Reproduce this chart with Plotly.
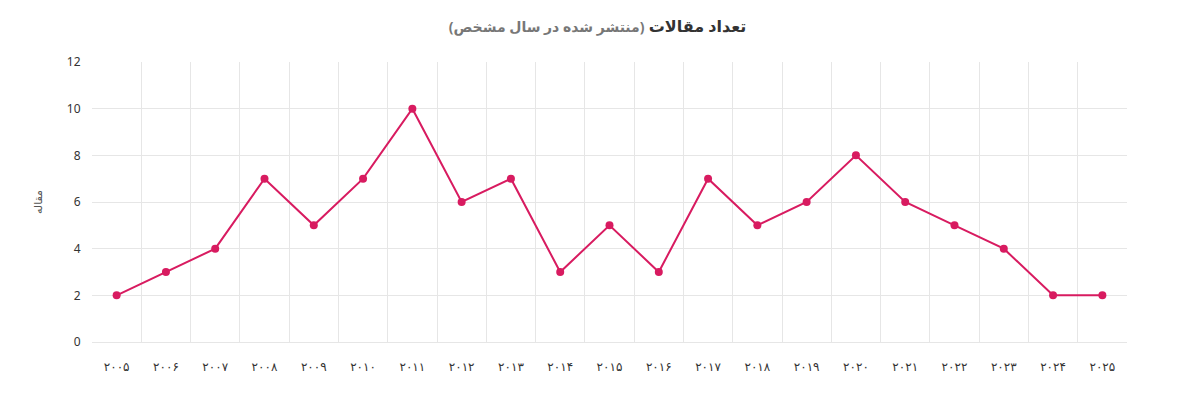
import plotly.graph_objects as go

years = ["۲۰۰۵","۲۰۰۶","۲۰۰۷","۲۰۰۸","۲۰۰۹","۲۰۱۰","۲۰۱۱","۲۰۱۲","۲۰۱۳","۲۰۱۴","۲۰۱۵","۲۰۱۶","۲۰۱۷","۲۰۱۸","۲۰۱۹","۲۰۲۰","۲۰۲۱","۲۰۲۲","۲۰۲۳","۲۰۲۴","۲۰۲۵"]
counts = [2,3,4,7,5,7,10,6,7,3,5,3,7,5,6,8,6,5,4,2,2]

fig = go.Figure(go.Scatter(x=years, y=counts, mode="lines+markers",
    line=dict(color="#d81b60", width=2), marker=dict(color="#d81b60", size=8)))
fig.update_layout(
    width=1179, height=417, paper_bgcolor="white", plot_bgcolor="white",
    margin=dict(l=84, r=60, t=54, b=83), showlegend=False,
    font=dict(family="Noto Sans, DejaVu Sans", color="#333"),
    title=dict(text="<b>تعداد مقالات</b> <span style='color:#777;font-size:14px'><b>(منتشر شده در سال مشخص)</b></span>",
               x=0.5, y=0.955, xanchor="center", yanchor="middle", font=dict(size=16, color="#333")),
    xaxis=dict(type="category", tickson="boundaries", showgrid=True, gridcolor="#e6e6e6",
               showline=True, linecolor="#e6e6e6", ticks="", tickfont=dict(size=12, color="#333"),
               ticklabelstandoff=14, range=[-0.5, 20.5]),
    yaxis=dict(range=[0, 12], dtick=2, showgrid=True, gridcolor="#e6e6e6", zeroline=False,
               showline=False, tickfont=dict(size=12, color="#333"), ticks="outside", ticklen=8, tickcolor="white",
               title=dict(text="مقاله", font=dict(size=11, color="#555"), standoff=22)),
)
fig.write_html("out.html")
